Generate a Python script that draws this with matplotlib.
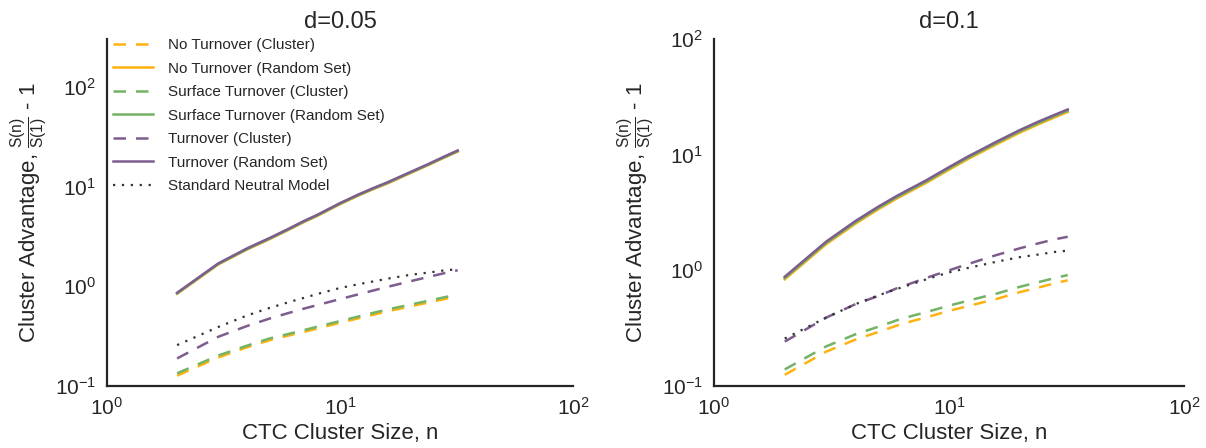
import numpy as np
import matplotlib
matplotlib.use("Agg")
import matplotlib.pyplot as plt
from matplotlib.ticker import LogLocator, NullLocator

plt.rcParams['font.family'] = ['Liberation Sans', 'DejaVu Sans']
plt.rcParams['mathtext.default'] = 'regular'

# cluster sizes
n = [2, 3, 4, 5, 6, 7, 8, 10, 12, 14, 16, 20, 24, 28, 32]

# d = 0.05
no_cl_05 = [0.127, 0.193, 0.245, 0.288, 0.32, 0.348, 0.377, 0.43, 0.477, 0.52, 0.56, 0.627, 0.687, 0.743, 0.795]
no_rs_05 = [0.84, 1.65, 2.34, 2.97, 3.66, 4.39, 5.07, 6.63, 8.09, 9.46, 10.7, 13.55, 16.4, 19.4, 22.3]
surf_cl_05 = [0.134, 0.202, 0.254, 0.30, 0.332, 0.363, 0.393, 0.447, 0.497, 0.543, 0.585, 0.653, 0.716, 0.774, 0.826]
surf_rs_05 = [0.847, 1.665, 2.36, 3.0, 3.69, 4.43, 5.12, 6.7, 8.18, 9.55, 10.83, 13.7, 16.55, 19.6, 22.55]
turn_cl_05 = [0.189, 0.311, 0.40, 0.475, 0.538, 0.596, 0.647, 0.743, 0.829, 0.91, 0.985, 1.12, 1.24, 1.35, 1.445]
turn_rs_05 = [0.86, 1.69, 2.4, 3.05, 3.75, 4.5, 5.2, 6.8, 8.3, 9.7, 11.0, 13.9, 16.8, 19.9, 22.9]

# d = 0.1
no_cl_1 = [0.125, 0.198, 0.252, 0.293, 0.333, 0.365, 0.392, 0.446, 0.49, 0.53, 0.567, 0.648, 0.71, 0.77, 0.82]
no_rs_1 = [0.836, 1.68, 2.53, 3.37, 4.18, 4.94, 5.7, 7.41, 9.12, 10.74, 12.35, 15.5, 18.3, 20.9, 23.4]
surf_cl_1 = [0.139, 0.22, 0.28, 0.325, 0.37, 0.405, 0.435, 0.495, 0.545, 0.59, 0.63, 0.72, 0.79, 0.855, 0.91]
surf_rs_1 = [0.858, 1.726, 2.6, 3.46, 4.29, 5.07, 5.85, 7.6, 9.36, 11.02, 12.68, 15.9, 18.8, 21.45, 24.0]
turn_cl_1 = [0.242, 0.39, 0.51, 0.60, 0.70, 0.78, 0.86, 1.00, 1.13, 1.25, 1.36, 1.55, 1.71, 1.85, 1.95]
turn_rs_1 = [0.88, 1.77, 2.67, 3.55, 4.4, 5.2, 6.0, 7.8, 9.6, 11.3, 13.0, 16.3, 19.3, 22.0, 24.6]

# standard neutral model (same in both panels)
snm = [0.257, 0.39, 0.51, 0.607, 0.69, 0.764, 0.836, 0.96, 1.047, 1.12, 1.19, 1.30, 1.37, 1.44, 1.48]

orange = '#FFB20F'
green = '#72B364'
purple = '#7D5C8E'
dark = '#333333'

fig = plt.figure(figsize=(12.06, 4.48), dpi=100)
ax1 = fig.add_axes([107 / 1206, 62 / 448, 466 / 1206, 347 / 448])
ax2 = fig.add_axes([714 / 1206, 62 / 448, 470 / 1206, 347 / 448])

panels = [
    (ax1, "d=0.05", (no_cl_05, no_rs_05, surf_cl_05, surf_rs_05, turn_cl_05, turn_rs_05), 300),
    (ax2, "d=0.1", (no_cl_1, no_rs_1, surf_cl_1, surf_rs_1, turn_cl_1, turn_rs_1), 100),
]

for ax, title, series, ytop in panels:
    no_cl, no_rs, surf_cl, surf_rs, turn_cl, turn_rs = series
    lw = 1.8
    ax.plot(n, no_cl, color=orange, lw=lw, dashes=[5, 4], label="No Turnover (Cluster)")
    ax.plot(n, no_rs, color=orange, lw=lw, label="No Turnover (Random Set)")
    ax.plot(n, surf_cl, color=green, lw=lw, dashes=[5, 4], label="Surface Turnover (Cluster)")
    ax.plot(n, surf_rs, color=green, lw=lw, label="Surface Turnover (Random Set)")
    ax.plot(n, turn_cl, color=purple, lw=lw, dashes=[5, 4], label="Turnover (Cluster)")
    ax.plot(n, turn_rs, color=purple, lw=lw, label="Turnover (Random Set)")
    ax.plot(n, snm, color=dark, lw=1.6, dashes=[1, 3], label="Standard Neutral Model")

    ax.set_xscale('log')
    ax.set_yscale('log')
    ax.set_xlim(1, 100)
    ax.set_ylim(0.1, ytop)
    ax.xaxis.set_major_locator(LogLocator(base=10, numticks=10))
    ax.yaxis.set_major_locator(LogLocator(base=10, numticks=10))
    ax.xaxis.set_minor_locator(NullLocator())
    ax.yaxis.set_minor_locator(NullLocator())
    ax.tick_params(length=0, labelsize=15, pad=8, colors='#262626')
    for s in ['top', 'right']:
        ax.spines[s].set_visible(False)
    for s in ['left', 'bottom']:
        ax.spines[s].set_linewidth(1.6)
        ax.spines[s].set_color('#262626')
    ax.set_title(title, fontsize=17, color='#262626', pad=8)
    ax.set_xlabel("CTC Cluster Size, n", fontsize=16, color='#262626', labelpad=3)
    ax.set_ylabel(r"Cluster Advantage, $\frac{S(n)}{S(1)}$ - 1", fontsize=16,
                  color='#262626', labelpad=4)

leg = ax1.legend(loc='upper left', bbox_to_anchor=(0.0, 1.02), frameon=False,
                 fontsize=11, handlelength=2.6, handletextpad=1.0,
                 labelspacing=0.62, borderaxespad=0)
for t in leg.get_texts():
    t.set_color('#262626')

fig.savefig("out.png", dpi=100)
